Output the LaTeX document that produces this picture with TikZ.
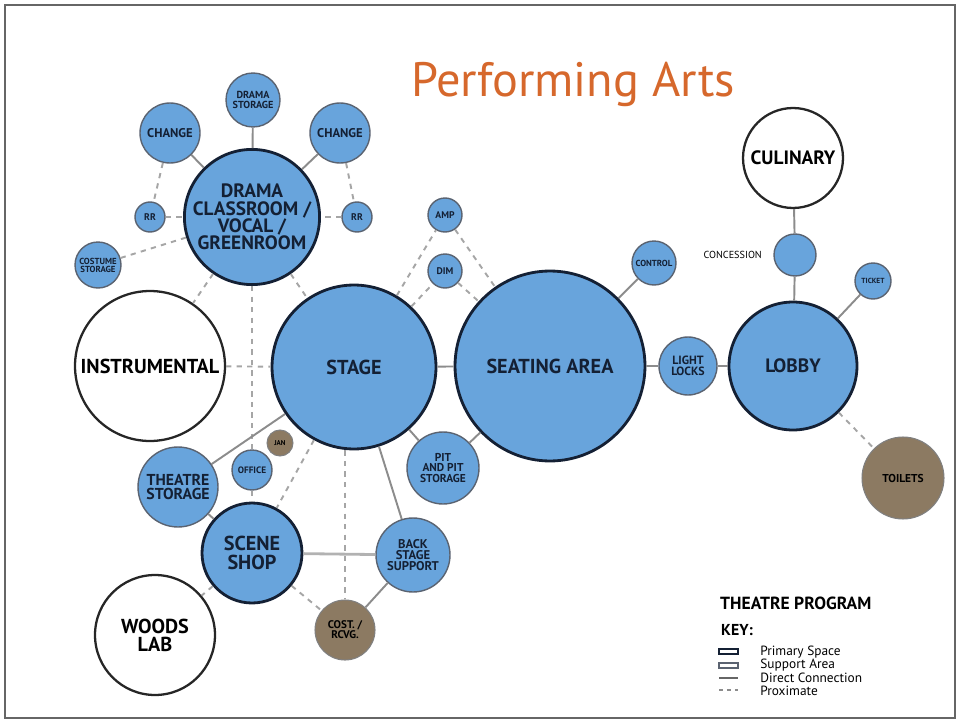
\documentclass[tikz,border=0pt]{standalone}
\usepackage{fontspec}
\setmainfont{PT Sans}
\usetikzlibrary{positioning}
\definecolor{bubble}{RGB}{104,164,220}
\definecolor{navy}{RGB}{20,32,52}
\definecolor{mud}{RGB}{140,122,98}
\definecolor{heading}{RGB}{214,104,44}
\tikzstyle{space} = [circle, draw, inner sep=0pt, align=center, font=\bfseries]
\tikzstyle{primary} = [space, fill=bubble, draw=navy, line width=1.6pt, text=navy]
\tikzstyle{support} = [space, fill=bubble, draw=navy!70, line width=0.8pt, text=navy]
\tikzstyle{other} = [space, fill=white, draw=black!85, line width=1.3pt]
\tikzstyle{service} = [space, fill=mud, draw=black!50, line width=0.6pt, text=black]
\tikzstyle{direct} = [draw=black!45, line width=1.1pt]
\tikzstyle{near} = [draw=black!35, line width=1.1pt, dash pattern=on 3pt off 3pt]
\tikzstyle{keytext} = [anchor=west, inner sep=0pt, font=\lbl{7.6}]
\newcommand{\lbl}[1]{\fontsize{#1}{0.9\dimexpr#1pt\relax}\selectfont}

\begin{document}
\begin{tikzpicture}[x=0.02cm, y=-0.02cm]
    \useasboundingbox (0,0) rectangle (960,723);
    \draw [black!60, line width=1.6pt] (5,5) rectangle (955,718);
    \node [text=heading, font=\lbl{27.5}] (title) at (573,84) {Performing Arts};

    % drama wing
    \node [primary, minimum size=2.6cm, font=\bfseries\fontsize{11}{9.8}\selectfont] (drama) at (252,217) {DRAMA\\CLASSROOM /\\VOCAL /\\GREENROOM};
    \node [support, minimum size=1.08cm, font=\bfseries\lbl{5.8}] (dstore) at (253,100) {DRAMA\\STORAGE};
    \node [support, minimum size=1.2cm, font=\bfseries\lbl{7.2}] (chgl) at (170,133) {CHANGE};
    \node [support, minimum size=1.2cm, font=\bfseries\lbl{7.2}] (chgr) at (340,133) {CHANGE};
    \node [support, minimum size=0.6cm, font=\bfseries\lbl{5.5}] (rrl) at (150,217) {RR};
    \node [support, minimum size=0.6cm, font=\bfseries\lbl{5.5}] (rrr) at (357,217) {RR};
    \node [support, minimum size=0.92cm, font=\bfseries\lbl{5}] (costume) at (98,265) {COSTUME\\STORAGE};
    \node [other, minimum size=3.0cm, font=\bfseries\lbl{11.5}] (instr) at (150,366) {INSTRUMENTAL};

    % stage and house
    \node [primary, minimum size=3.28cm, font=\bfseries\lbl{11.5}] (stage) at (354,367) {STAGE};
    \node [primary, minimum size=3.8cm, font=\bfseries\lbl{11.5}] (seat) at (550,366) {SEATING AREA};
    \node [support, minimum size=0.68cm, font=\bfseries\lbl{5.5}] (amp) at (445,215) {AMP};
    \node [support, minimum size=0.68cm, font=\bfseries\lbl{5.5}] (dim) at (445,271) {DIM};
    \node [support, minimum size=0.88cm, font=\bfseries\lbl{5}] (ctrl) at (654,263) {CONTROL};
    \node [support, minimum size=1.16cm, font=\bfseries\lbl{6.8}] (locks) at (688,366) {LIGHT\\LOCKS};
    \node [support, minimum size=1.44cm, font=\bfseries\lbl{6.5}] (pit) at (443,468) {PIT\\AND PIT\\STORAGE};

    % front of house
    \node [primary, minimum size=2.56cm, font=\bfseries\lbl{11}] (lobby) at (793,366) {LOBBY};
    \node [other, minimum size=2.0cm, font=\bfseries\lbl{11}] (culinary) at (793,158) {CULINARY};
    \node [support, minimum size=0.84cm] (conc) at (795,255) {};
    \node [left=3pt of conc, font=\lbl{5.8}] (conclbl) {CONCESSION};
    \node [support, minimum size=0.72cm, font=\bfseries\lbl{4.2}] (ticket) at (873,281) {TICKET};
    \node [service, minimum size=1.64cm, font=\bfseries\lbl{6.5}] (toilets) at (903,478) {TOILETS};

    % shop wing
    \node [service, minimum size=0.52cm, font=\bfseries\lbl{4}] (jan) at (280,443) {JAN};
    \node [support, minimum size=0.8cm, font=\bfseries\lbl{5.3}] (office) at (252,470) {OFFICE};
    \node [support, minimum size=1.6cm, font=\bfseries\lbl{9}] (tstore) at (178,487) {THEATRE\\STORAGE};
    \node [primary, minimum size=2.0cm, font=\bfseries\lbl{11.5}] (scene) at (252,553) {SCENE\\SHOP};
    \node [support, minimum size=1.48cm, font=\bfseries\lbl{7.2}] (back) at (413,555) {BACK\\STAGE\\SUPPORT};
    \node [service, minimum size=1.2cm, font=\bfseries\lbl{6.3}] (cost) at (345,630) {COST. /\\RCVG.};
    \node [other, minimum size=2.4cm, font=\bfseries\lbl{11.5}] (woods) at (155,635) {WOODS\\LAB};

    % connections
    \draw [direct] (dstore) -- (drama);
    \draw [direct] (chgl) -- (drama);
    \draw [direct] (chgr) -- (drama);
    \draw [near] (chgl) -- (rrl);
    \draw [near] (chgr) -- (rrr);
    \draw [near] (rrl) -- (drama);
    \draw [near] (rrr) -- (drama);
    \draw [near] (costume) -- (drama);
    \draw [near] (drama) -- (instr);
    \draw [near] (drama) -- (stage);
    \draw [near] (drama) -- (office);
    \draw [near] (office) -- (scene);
    \draw [near] (instr) -- (stage);
    \draw [direct] (stage) -- (tstore);
    \draw [near] (stage) -- (scene);
    \draw [near] (stage.south -| cost) -- (cost);
    \draw [direct] (stage) -- (back);
    \draw [direct] (stage) -- (pit);
    \draw [direct] (stage) -- (seat);
    \draw [near] (stage) -- (amp);
    \draw [near] (stage) -- (dim);
    \draw [near] (amp) -- (seat);
    \draw [near] (dim) -- (seat);
    \draw [direct] (seat) -- (pit);
    \draw [direct] (seat) -- (ctrl);
    \draw [direct] (seat) -- (locks);
    \draw [direct] (locks) -- (lobby);
    \draw [direct] (lobby) -- (conc);
    \draw [direct] (conc) -- (culinary);
    \draw [direct] (lobby) -- (ticket);
    \draw [near] (lobby) -- (toilets);
    \draw [direct] (tstore) -- (scene);
    \draw [direct, draw=black!30, line width=1.6pt] (scene) -- (back);
    \draw [near] (scene) -- (cost);
    \draw [direct] (back) -- (cost);
    \draw [near] (scene) -- (woods);

    % key
    \node [anchor=west, font=\bfseries\lbl{10}] (prog) at (714,603) {THEATRE PROGRAM};
    \node [anchor=west, font=\bfseries\lbl{9}] (key) at (715,630) {KEY:};
    \draw [navy, line width=1.4pt] (719,649) rectangle (738,654);
    \draw [navy!70, line width=0.6pt] (719,663) rectangle (738,668);
    \draw [black!60, line width=0.6pt] (719,678) -- (738,678);
    \draw [black!45, line width=0.8pt, dash pattern=on 2.5pt off 2pt] (719,690) -- (738,690);
    \node [keytext] (kprim) at (760,652) {Primary Space};
    \node [keytext] (ksupp) at (760,665) {Support Area};
    \node [keytext] (kdir) at (760,678) {Direct Connection};
    \node [keytext] (kprox) at (760,691) {Proximate};
\end{tikzpicture}
\end{document}
